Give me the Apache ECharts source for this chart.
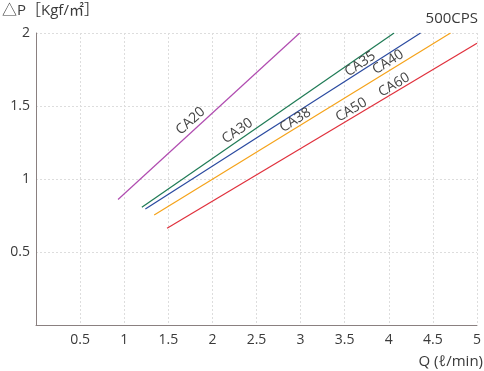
<!DOCTYPE html>
<html><head><meta charset="utf-8">
<script src="https://cdn.jsdelivr.net/npm/echarts@6/dist/echarts.min.js"></script>
<style>html,body{margin:0;padding:0;background:#fff}#c{width:484px;height:371px}</style>
</head><body><div id="c"></div>
<script>
const xTicks = [0, 0.5, 1, 1.5, 2, 2.5, 3, 3.5, 4, 4.5, 5];
const yTicks = [0, 0.5, 1, 1.5, 2];
const seriesNames = ['CA20', 'CA30/CA35', 'CA38/CA40', 'CA40/CA50', 'CA50/CA60'];
const ca20 = [[0.93, 0.86], [2.99, 2.0]];
const caGreen = [[1.2, 0.806], [4.06, 2.0]];
const caBlue = [[1.24, 0.794], [4.36, 2.0]];
const caOrange = [[1.34, 0.753], [4.70, 2.0]];
const caRed = [[1.486, 0.662], [5.0, 1.93]];
const labelsPurple = [{name: 'CA20', coord: [1.753, 1.397], rot: 42}];
const labelsGreen = [{name: 'CA30', coord: [2.285, 1.329], rot: 34}, {name: 'CA35', coord: [3.676, 1.788], rot: 34}];
const labelsBlue = [{name: 'CA38', coord: [2.941, 1.404], rot: 32.5}, {name: 'CA40', coord: [3.993, 1.801], rot: 32.5}];
const labelsOrange = [];
const labelsRed = [{name: 'CA50', coord: [3.575, 1.473], rot: 31}, {name: 'CA60', coord: [4.061, 1.644], rot: 31}];

const FONT = '"Open Sans", "Noto Sans CJK JP", sans-serif';
const TXT = '#3a3a3a';
function mk(name, data, color, labels) {
  return {
    name, type: 'line', data, symbol: 'none', smooth: false,
    lineStyle: {color, width: 1.2}, itemStyle: {color},
    markPoint: {
      symbol: 'circle', symbolSize: 0, silent: true,
      data: labels.map(l => ({
        coord: l.coord,
        label: {show: true, formatter: l.name, rotate: l.rot, position: 'inside',
          color: '#444', fontSize: 14, fontFamily: FONT}
      }))
    }
  };
}
const chart = echarts.init(document.getElementById('c'));
chart.setOption({
  animation: false,
  title: [
    {text: '△P［Kgf/㎡］', left: 2, top: 3, padding: 0, textStyle: {fontSize: 15, fontWeight: 'normal', color: TXT, fontFamily: FONT}},
    {text: '500CPS', right: 6, top: 11, padding: 0, textStyle: {fontSize: 15, fontWeight: 'normal', color: TXT, fontFamily: FONT}},
    {text: 'Q (ℓ/min)', right: 1, top: 354, padding: 0, textStyle: {fontSize: 15, fontWeight: 'normal', color: TXT, fontFamily: FONT}}
  ],
  grid: {left: 36, right: 6, top: 33, bottom: 46, containLabel: false},
  xAxis: {
    type: 'value', min: xTicks[0], max: xTicks[xTicks.length - 1], interval: 0.5,
    axisLine: {show: true, lineStyle: {color: '#8a8080', width: 1}},
    axisTick: {show: false},
    axisLabel: {showMinLabel: false, color: TXT, fontSize: 14, fontFamily: FONT, margin: 8,
      formatter: v => String(v)},
    splitLine: {show: true, lineStyle: {color: '#dddddd', type: [2, 2], width: 1}}
  },
  yAxis: {
    type: 'value', min: yTicks[0], max: yTicks[yTicks.length - 1], interval: 0.5,
    axisLine: {show: true, lineStyle: {color: '#8a8080', width: 1}},
    axisTick: {show: false},
    axisLabel: {showMinLabel: false, color: TXT, fontSize: 14, fontFamily: FONT, margin: 6,
      formatter: v => String(v)},
    splitLine: {show: true, lineStyle: {color: '#dddddd', type: [2, 2], width: 1}}
  },
  series: [
    mk(seriesNames[0], ca20, '#b04cb0', labelsPurple),
    mk(seriesNames[1], caGreen, '#1e7a55', labelsGreen),
    mk(seriesNames[2], caBlue, '#2a4aa0', labelsBlue),
    mk(seriesNames[3], caOrange, '#f5a31a', labelsOrange),
    mk(seriesNames[4], caRed, '#e0303c', labelsRed)
  ]
});
</script></body></html>
